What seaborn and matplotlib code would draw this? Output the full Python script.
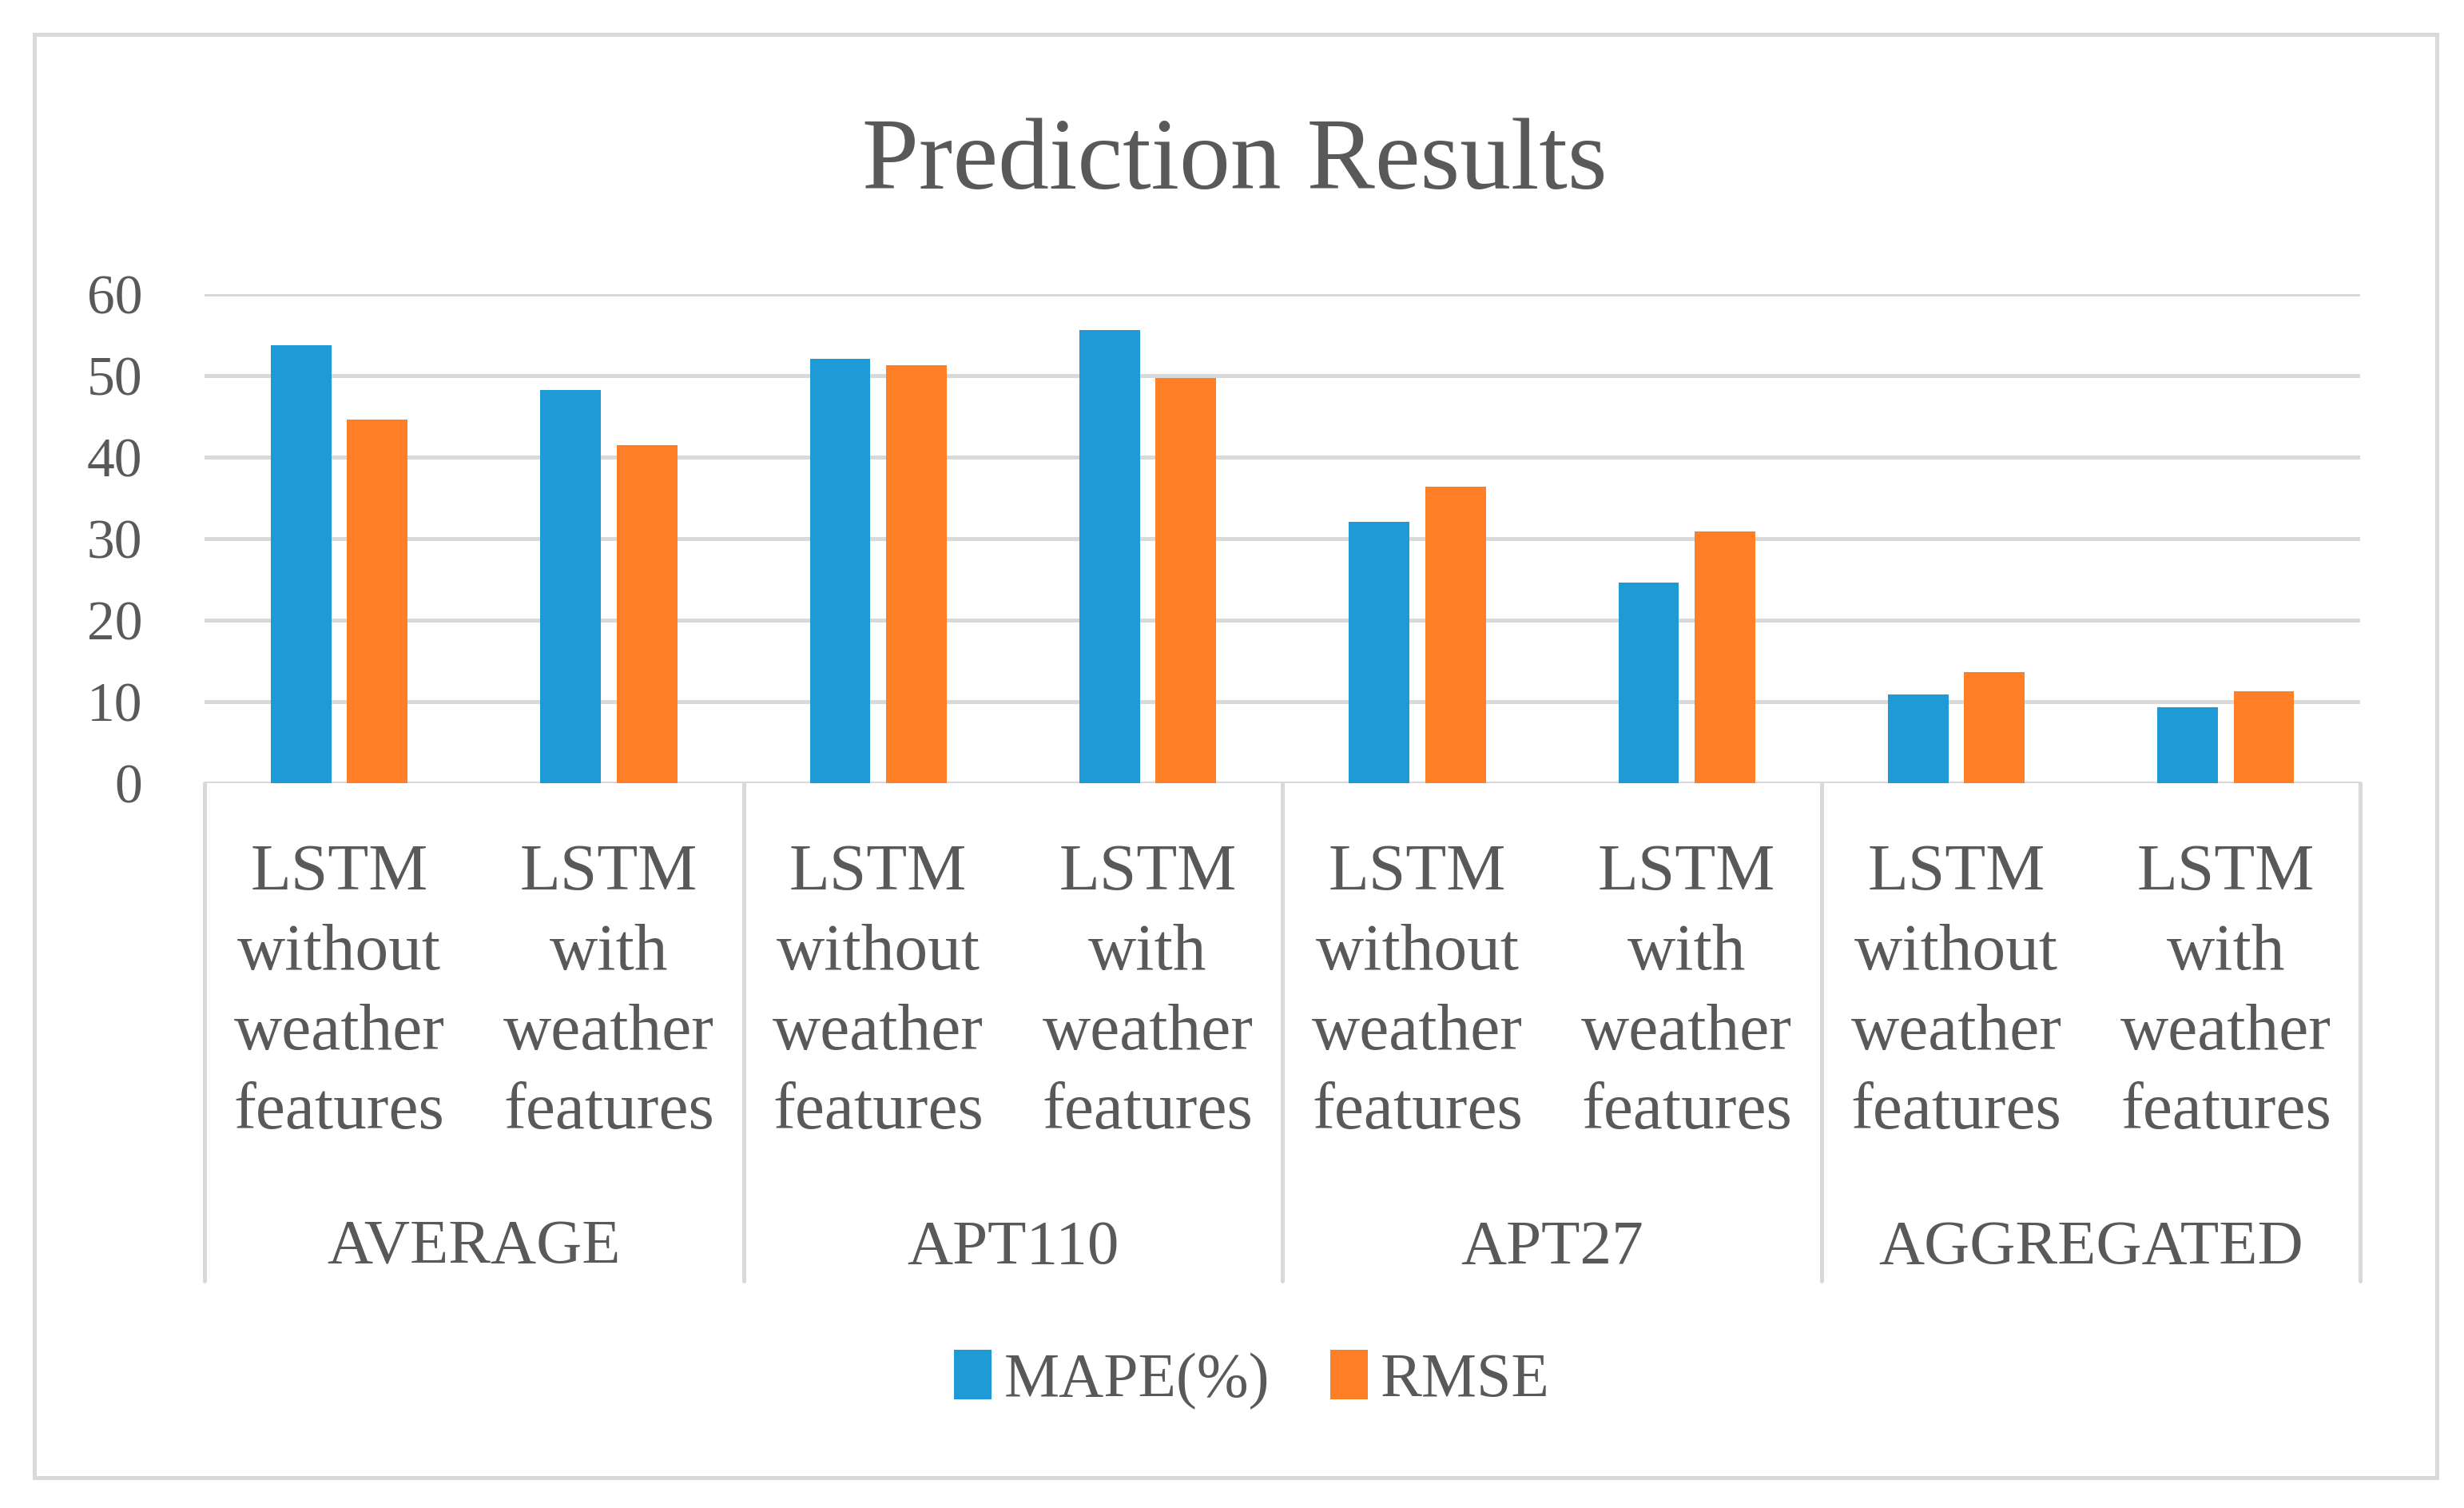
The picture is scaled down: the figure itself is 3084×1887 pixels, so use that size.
import pandas as pd
import matplotlib.pyplot as plt
import seaborn as sns
from matplotlib.patches import Rectangle
import matplotlib.transforms as mtransforms

# data
groups = ['AVERAGE', 'APT110', 'APT27', 'AGGREGATED']
models = ['LSTM\nwithout\nweather\nfeatures', 'LSTM\nwith\nweather\nfeatures']
series = ['MAPE(%)', 'RMSE']
mape = [53.7, 48.2, 52.1, 55.6, 32.1, 24.6, 10.9, 9.3]
rmse = [44.6, 41.5, 51.3, 49.7, 36.4, 30.9, 13.6, 11.3]
yticks = [0, 10, 20, 30, 40, 50, 60]

colors = ['#1E9BD7', '#FF7F27']
text_color = '#595959'
grid_color = '#D9D9D9'

# long table for seaborn
cats = [f'{g}|{m}' for g in groups for m in models]
rows = []
for c, v in zip(cats, mape):
    rows.append({'cat': c, 'series': series[0], 'value': v})
for c, v in zip(cats, rmse):
    rows.append({'cat': c, 'series': series[1], 'value': v})
df = pd.DataFrame(rows)

sns.set_theme(style='white')
plt.rcParams['font.family'] = ['Liberation Serif', 'DejaVu Serif']

fig = plt.figure(figsize=(30.84, 18.87), dpi=100)
ax = fig.add_axes([0.083, 0.4807, 0.875, 0.3243])

sns.barplot(data=df, x='cat', y='value', hue='series', order=cats,
            hue_order=series, palette=colors, width=0.566, gap=0.205,
            saturation=1, ax=ax, legend=True, edgecolor='none')

ax.set_ylim(0, 60)
ax.set_xlim(-0.5, len(cats) - 0.5)
ax.set_yticks(yticks)
ax.set_yticklabels([str(t) for t in yticks], fontsize=50, color=text_color)
ax.tick_params(axis='y', length=0, pad=56)
ax.set_xticks([])
ax.set_xlabel('')
ax.set_ylabel('')
for s in ax.spines.values():
    s.set_visible(False)
ax.yaxis.grid(True, color=grid_color, linewidth=3.6)
ax.set_axisbelow(True)

# multi-level category axis
trans = mtransforms.blended_transform_factory(ax.transData, ax.transAxes)
for i, c in enumerate(cats):
    ax.text(i, -0.43, c.split('|')[1], transform=trans, ha='center',
            va='center', fontsize=60, color=text_color, linespacing=1.42)
for gi, g in enumerate(groups):
    ax.text(gi * 2 + 0.5, -0.951, g, transform=trans, ha='center',
            va='center', fontsize=57, color=text_color)
for b in range(len(groups) + 1):
    xb = b * 2 - 0.5
    ax.plot([xb, xb], [0, -1.018], transform=trans, color=grid_color,
            linewidth=3.6, clip_on=False)

fig.suptitle('Prediction Results', x=0.501, y=0.891, fontsize=92,
             color=text_color, va='center')

leg = ax.legend(loc='center', bbox_to_anchor=(0.508, 0.085),
                bbox_transform=fig.transFigure, ncol=2, frameon=False,
                fontsize=56, handlelength=0.6, handleheight=0.85,
                handletextpad=0.2, columnspacing=0.98)
for t in leg.get_texts():
    t.set_color(text_color)

# outer chart frame
fig.patches.append(Rectangle((0.014, 0.020), 0.975, 0.957,
                             transform=fig.transFigure, fill=False,
                             edgecolor=grid_color, linewidth=3.6))

plt.savefig('out.png', dpi=100, facecolor='white')
plt.close()
